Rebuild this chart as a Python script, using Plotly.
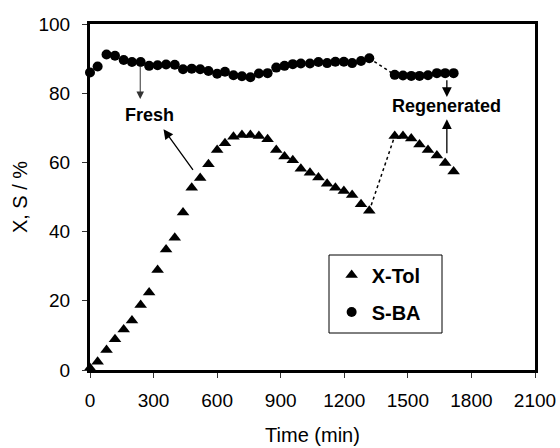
import plotly.graph_objects as go

# ---- data ----
t_fresh = [0, 36, 78, 118, 159, 198, 239, 279, 319, 359, 400, 439, 480, 520, 559, 600, 637,
           677, 717, 757, 797, 838, 879, 918, 957, 995, 1038, 1078, 1119, 1158, 1198, 1237,
           1279, 1318]
xtol_fresh = [0.6, 2.4, 5.8, 8.9, 11.7, 14.3, 18.8, 22.4, 28.9, 34.8, 38.2, 45.5, 52.7, 55.5,
              59.5, 63.6, 65.5, 67.4, 67.9, 67.9, 67.6, 66.7, 63.6, 61.7, 60.6, 58.2, 57.0,
              55.6, 53.8, 52.7, 51.7, 50.6, 47.9, 46.0]
sba_fresh = [86.0, 87.7, 91.2, 90.8, 89.6, 89.0, 89.0, 87.9, 88.1, 88.3, 88.2, 86.9, 87.1, 86.9,
             86.4, 85.6, 86.2, 85.2, 84.9, 84.6, 85.7, 85.8, 87.4, 87.9, 88.4, 88.6, 88.6,
             89.0, 88.7, 89.1, 89.1, 88.7, 89.3, 90.1]

t_regen = [1438, 1477, 1516, 1555, 1595, 1637, 1676, 1716]
xtol_regen = [67.6, 67.6, 66.9, 65.2, 63.6, 62.0, 59.8, 57.4]
sba_regen = [85.3, 85.1, 85.0, 85.0, 85.2, 85.8, 85.8, 85.8]

x_ticks = [0, 300, 600, 900, 1200, 1500, 1800, 2100]
y_ticks = [0, 20, 40, 60, 80, 100]

FONT = "Liberation Sans, Arial, sans-serif"

fig = go.Figure()

# dotted connectors between fresh and regenerated runs
fig.add_trace(go.Scatter(x=[t_fresh[-1], t_regen[0]], y=[xtol_fresh[-1], xtol_regen[0]],
                         mode="lines", line=dict(color="black", width=1.5, dash="dot"),
                         showlegend=False, hoverinfo="skip"))
fig.add_trace(go.Scatter(x=[t_fresh[-1], t_regen[0]], y=[sba_fresh[-1], sba_regen[0]],
                         mode="lines", line=dict(color="black", width=1.5, dash="dot"),
                         showlegend=False, hoverinfo="skip"))

fig.add_trace(go.Scatter(x=t_fresh + t_regen, y=xtol_fresh + xtol_regen, mode="markers",
                         name="<b>X-Tol</b>", legendgroup="a",
                         marker=dict(symbol="triangle-up", size=11, color="black"),
                         cliponaxis=False))
fig.add_trace(go.Scatter(x=t_fresh + t_regen, y=sba_fresh + sba_regen, mode="markers",
                         name="<b>S-BA</b>", legendgroup="b",
                         marker=dict(symbol="circle", size=10, color="black"),
                         cliponaxis=False))

# annotations
ann_font = dict(family=FONT, size=18, color="black")
annotations = [
    dict(x=283, y=73.7, text="<b>Fresh</b>", showarrow=False, font=ann_font),
    dict(x=1684, y=76.2, text="<b>Regenerated</b>", showarrow=False, font=ann_font),
    dict(x=237, y=78.3, ax=237, ay=88.3, axref="x", ayref="y", text="", showarrow=True,
         arrowhead=2, arrowsize=1.5, arrowwidth=1, arrowcolor="#333", standoff=0),
    dict(x=347, y=69.6, ax=491, ay=57.4, axref="x", ayref="y", text="", showarrow=True,
         arrowhead=2, arrowsize=1.5, arrowwidth=1.3, arrowcolor="black", standoff=0),
    dict(x=1684, y=78.9, ax=1684, ay=84.2, axref="x", ayref="y", text="", showarrow=True,
         arrowhead=2, arrowsize=1.5, arrowwidth=1.3, arrowcolor="black", standoff=0),
    dict(x=1684, y=72.5, ax=1684, ay=62.2, axref="x", ayref="y", text="", showarrow=True,
         arrowhead=2, arrowsize=1.5, arrowwidth=1.3, arrowcolor="black", standoff=0),
]

fig.update_layout(
    width=560, height=448,
    margin=dict(l=90, r=25, t=24, b=78),
    paper_bgcolor="white", plot_bgcolor="white",
    font=dict(family=FONT, size=19, color="black"),
    showlegend=True,
    legend=dict(x=0.543, y=0.331, xanchor="left", yanchor="top",
                bgcolor="rgba(0,0,0,0)", borderwidth=0,
                font=dict(family=FONT, size=20, color="black"),
                traceorder="grouped", tracegroupgap=8),
    shapes=[dict(type="rect", xref="paper", yref="paper",
                 x0=(329 - 90) / 445, x1=(442 - 90) / 445,
                 y0=(370 - 333) / 346, y1=(370 - 255) / 346,
                 line=dict(color="black", width=1))],
    annotations=annotations,
    xaxis=dict(range=[0, 2100], tickvals=x_ticks, ticks="outside", ticklen=5, tickwidth=1,
               tickcolor="#333", showgrid=False, zeroline=False, showline=True,
               linecolor="black", linewidth=3, mirror=True, automargin=False,
               title=dict(text="Time (min)", font=dict(size=20), standoff=19),
               ticklabelstandoff=6),
    yaxis=dict(range=[0, 100], tickvals=y_ticks, ticks="outside", ticklen=5, tickwidth=1,
               tickcolor="#333", showgrid=False, zeroline=False, showline=True,
               linecolor="black", linewidth=3, mirror=True, automargin=False,
               title=dict(text="X, S / %", font=dict(size=20), standoff=6),
               ticklabelstandoff=8),
)

fig.write_html("out.html")
